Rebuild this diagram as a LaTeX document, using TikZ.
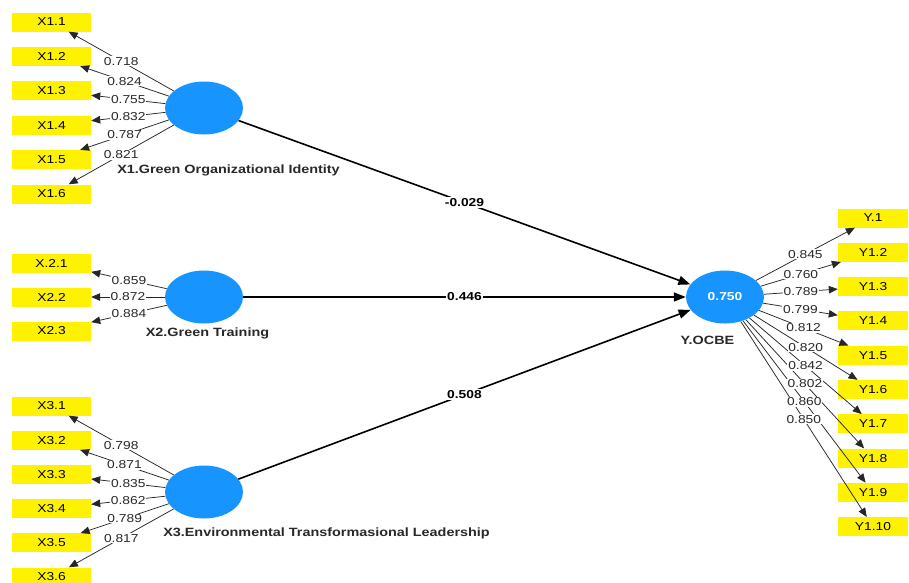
\documentclass[tikz,border=0pt]{standalone}
\usepackage{fontspec}
\setmainfont{Liberation Sans}[FakeStretch=1.2]
\usetikzlibrary{arrows.meta}
\usetikzlibrary{shapes.geometric}

\definecolor{lvblue}{RGB}{24,148,255}
\definecolor{txtgray}{RGB}{40,40,40}

\tikzset{
  lv/.style={ellipse, fill=lvblue, minimum width=78pt, minimum height=53pt, inner sep=0pt},
  lvname/.style={font=\fontsize{12}{14}\selectfont\bfseries, text=txtgray},
  ind/.style={fill=yellow, minimum width=79pt, minimum height=19pt, inner sep=0pt, font=\fontsize{11.5}{13}\selectfont},
  yind/.style={ind, minimum width=70pt},
  load/.style={-{Triangle[length=9pt,width=7.5pt]}, draw=black!85, line width=0.75pt},
  lbl/.style={fill=white, inner sep=0.8pt, text=txtgray, font=\fontsize{11.5}{13}\selectfont},
  beta/.style={-{Triangle[length=12pt,width=9pt]}, line width=1.6pt},
  blbl/.style={fill=white, inner sep=1pt, font=\fontsize{11.5}{13}\selectfont\bfseries},
}

\begin{document}
\begin{tikzpicture}[x=1pt,y=-1pt]
\useasboundingbox (0,0) rectangle (909,582);

% latent variables
\node[lv] (X1) at (204,108) {};
\node[lv] (X2) at (204,297) {};
\node[lv] (X3) at (204,492) {};
\node[lv, text=white, font=\fontsize{11.5}{13}\selectfont\bfseries] (Y) at (725,297) {0.750};

\node[lvname] at (228.5,170) {X1.Green Organizational Identity};
\node[lvname] at (207.5,333) {X2.Green Training};
\node[lvname] at (326.5,533) {X3.Environmental Transformasional Leadership};
\node[lvname] at (707.5,340) {Y.OCBE};

% indicators
\foreach \i/\t in {1/X1.1,2/X1.2,3/X1.3,4/X1.4,5/X1.5,6/X1.6}
  \node[ind] (x1\i) at (51.5,{22+34.4*(\i-1)}) {\t};
\foreach \i/\t in {1/X.2.1,2/X2.2,3/X2.3}
  \node[ind] (x2\i) at (51.5,{263+34*(\i-1)}) {\t};
\foreach \i/\t in {1/X3.1,2/X3.2,3/X3.3,4/X3.4,5/X3.5,6/X3.6}
  \node[ind] (x3\i) at (51.5,{406+34.2*(\i-1)}) {\t};
\foreach \i/\t in {1/Y.1,2/Y1.2,3/Y1.3,4/Y1.4,5/Y1.5,6/Y1.6,7/Y1.7,8/Y1.8,9/Y1.9,10/Y1.10}
  \node[yind] (y\i) at (873,{218+34.3*(\i-1)}) {\t};

% outer loadings
\foreach \i in {1,...,6} \draw[load] (X1) -- (x1\i);
\foreach \i in {1,2,3} \draw[load] (X2) -- (x2\i);
\foreach \i in {1,...,6} \draw[load] (X3) -- (x3\i);
\foreach \i in {1,...,10} \draw[load] (Y) -- (y\i);

\foreach \i/\v in {1/0.718,2/0.824,3/0.755,4/0.832,5/0.787,6/0.821}
  \path (X1) -- (x1\i) node[lbl, midway] {\v};
\foreach \i/\v in {1/0.859,2/0.872,3/0.884}
  \path (X2) -- (x2\i) node[lbl, midway] {\v};
\foreach \i/\v in {1/0.798,2/0.871,3/0.835,4/0.862,5/0.789,6/0.817}
  \path (X3) -- (x3\i) node[lbl, midway] {\v};
\foreach \i/\v in {1/0.845,2/0.760,3/0.789,4/0.799,5/0.812,6/0.820,7/0.842,8/0.802,9/0.860,10/0.850}
  \path (Y) -- (y\i) node[lbl, midway] {\v};

% path coefficients
\draw[beta] (X1) -- (Y) node[blbl, midway] {-0.029};
\draw[beta] (X2) -- (Y) node[blbl, midway] {0.446};
\draw[beta] (X3) -- (Y) node[blbl, midway] {0.508};
\end{tikzpicture}
\end{document}
